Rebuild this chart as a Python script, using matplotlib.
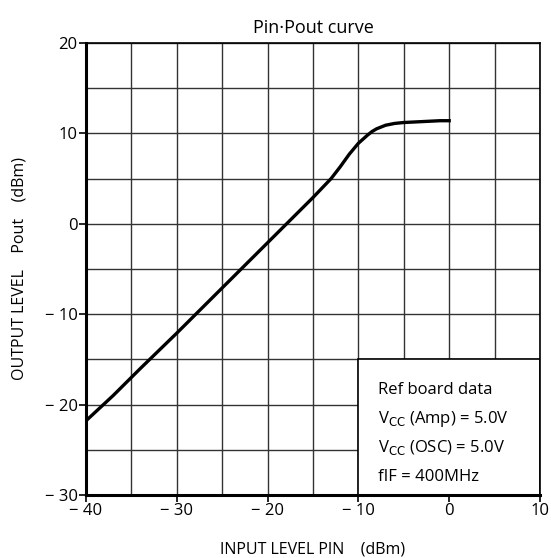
import matplotlib
matplotlib.use("Agg")
import matplotlib.pyplot as plt
from matplotlib.patches import Rectangle

plt.rcParams['font.family'] = ['Open Sans', 'DejaVu Sans']

# Pin vs Pout curve
pin = [-40, -37, -34, -30, -26, -22, -18, -15, -13, -12, -11, -10, -9, -8.5, -8, -7, -6, -5, -3, -1, 0]
pout = [-21.8, -19.0, -16.0, -12.1, -8.1, -4.1, -0.1, 2.9, 5.0, 6.3, 7.7, 8.9, 9.8, 10.2, 10.5, 10.9, 11.1, 11.2, 11.3, 11.4, 11.4]

xticks = [-40, -30, -20, -10, 0, 10]
xticklabels = ['\u2212 40', '\u2212 30', '\u2212 20', '\u2212 10', '0', '10']
yticks = [-30, -20, -10, 0, 10, 20]
yticklabels = ['\u2212 30', '\u2212 20', '\u2212 10', '0', '10', '20']

notes = ['Ref board data',
         'V$_{\\rm CC}$ (Amp) = 5.0V',
         'V$_{\\rm CC}$ (OSC) = 5.0V',
         'fIF = 400MHz']

fig = plt.figure(figsize=(5.51, 5.58), dpi=100)
ax = fig.add_axes([0.156, 0.113, 0.824, 0.81])

ax.set_xlim(-40, 10)
ax.set_ylim(-30, 20)
ax.set_xticks(xticks)
ax.set_xticklabels(xticklabels, fontsize=12)
ax.set_yticks(yticks)
ax.set_yticklabels(yticklabels, fontsize=12)
ax.set_xticks(range(-35, 10, 10), minor=True)
ax.set_yticks(range(-25, 20, 10), minor=True)
ax.grid(True, which='both', color='#333333', linewidth=1.0, zorder=1)
ax.tick_params(which='major', direction='out', length=5, width=1.2, pad=1)
ax.tick_params(which='minor', length=0)

for side in ['left', 'bottom']:
    ax.spines[side].set_linewidth(2.2)
for side in ['top', 'right']:
    ax.spines[side].set_linewidth(1.2)

ax.plot(pin, pout, color='black', linewidth=2.4, zorder=3)

# white notes box in lower right
ax.add_patch(Rectangle((-10, -30), 20, 15, facecolor='white', edgecolor='black',
                       linewidth=1.2, zorder=2))
for i, t in enumerate(notes):
    ax.text(-7.8, -18.4 - i * 3.2, t, fontsize=12, va='center', ha='left', zorder=4)

ax.set_title('Pin\u00b7Pout curve', fontsize=13, pad=7)
ax.set_xlabel('INPUT LEVEL PIN    (dBm)', fontsize=11.5, labelpad=16)
ax.set_ylabel('OUTPUT LEVEL    Pout    (dBm)', fontsize=11.5, labelpad=12)

fig.savefig('out.png', dpi=100)
